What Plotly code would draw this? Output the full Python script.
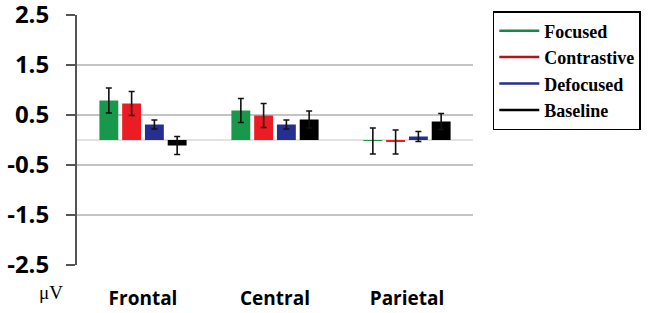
import plotly.graph_objects as go

categories = ["Frontal", "Central", "Parietal"]
series_names = ["Focused", "Contrastive", "Defocused", "Baseline"]
focused = [0.79, 0.59, -0.02]
focused_err = [0.25, 0.24, 0.26]
contrastive = [0.73, 0.49, -0.04]
contrastive_err = [0.24, 0.24, 0.24]
defocused = [0.31, 0.31, 0.07]
defocused_err = [0.09, 0.09, 0.10]
baseline = [-0.11, 0.41, 0.37]
baseline_err = [0.18, 0.17, 0.16]
y_ticks = [2.5, 1.5, 0.5, -0.5, -1.5, -2.5]

colors = ["#17984a", "#ec1c24", "#252f8f", "#000000"]
legend_colors = ["#17884a", "#b0141c", "#252f8f", "#000000"]
values = [focused, contrastive, defocused, baseline]
errors = [focused_err, contrastive_err, defocused_err, baseline_err]

fig = go.Figure()
for name, v, e, c in zip(series_names, values, errors, colors):
    fig.add_trace(go.Bar(
        x=categories, y=v, name=name, marker_color=c, showlegend=False,
        marker_line_width=0,
        error_y=dict(type="data", array=e, color="#111111", thickness=1.6, width=3),
    ))
for name, c in zip(series_names, legend_colors):
    fig.add_trace(go.Scatter(x=[None], y=[None], mode="lines", name=name,
                             line=dict(color=c, width=2.5)))

fig.update_layout(
    width=653, height=313,
    margin=dict(l=77, r=180, t=15, b=48, autoexpand=False),
    plot_bgcolor="white", paper_bgcolor="white",
    barmode="group", bargap=0.31, bargroupgap=0.17,
    showlegend=True,
    legend=dict(x=1.05, y=1.016, xanchor="left", yanchor="top",
                bordercolor="#000000", borderwidth=1.5,
                font=dict(family="Liberation Serif", size=18, color="#000000", weight="bold"),
                tracegroupgap=0, itemwidth=40),
    xaxis=dict(showgrid=False, showline=False, ticks="",
               tickfont=dict(family="Open Sans", size=19, color="#000000", weight="bold"),
               ticklabelstandoff=20, ticklabeloverflow="allow"),
    yaxis=dict(range=[-2.5, 2.5], tickvals=y_ticks,
               ticktext=[f"{t:.1f}" for t in y_ticks],
               showgrid=True, gridcolor="#c4c4c4", gridwidth=1.5,
               zeroline=True, zerolinecolor="#e2e2e2", zerolinewidth=1.5,
               showline=True, linecolor="#555555", linewidth=2,
               ticks="outside", ticklen=9, tickcolor="#555555", tickwidth=2,
               tickfont=dict(family="Open Sans", size=24, color="#000000", weight="bold"),
               ticklabelstandoff=12, ticklabeloverflow="allow"),
    annotations=[dict(text="μV", xref="paper", yref="paper", x=-0.03, y=-0.11,
                      xanchor="right", yanchor="middle", showarrow=False,
                      font=dict(family="Liberation Serif", size=19, color="#000000"))],
)
fig.write_html("out.html", config={"displayModeBar": False},
               post_script="document.body.style.margin='0';")
